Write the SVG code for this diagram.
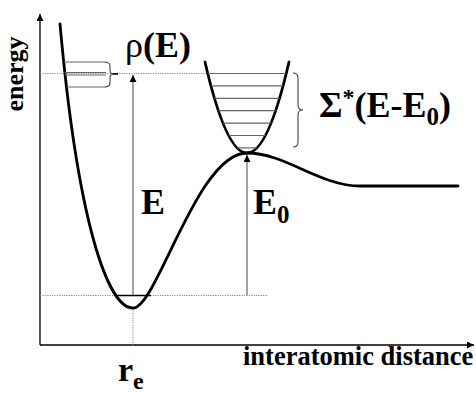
<svg xmlns="http://www.w3.org/2000/svg" width="476" height="393" viewBox="0 0 476 393">
<defs>
<style>
.curve{fill:none;stroke:#000;stroke-width:2.8;stroke-linecap:round}
.axis{fill:none;stroke:#000;stroke-width:1.3}
.thin{fill:none;stroke:#555;stroke-width:1.1}
.lvl{fill:none;stroke:#666;stroke-width:1.2}
.dot{fill:none;stroke:#888;stroke-width:1;stroke-dasharray:1.2,1.2}
.brace{fill:none;stroke:#444;stroke-width:1.1}
.lbl{font-weight:bold;fill:#000}
</style>
<marker id="ah" viewBox="0 0 10 10" refX="10" refY="5" markerWidth="8" markerHeight="7" markerUnits="userSpaceOnUse" orient="auto">
<path d="M0,0 L10,5 L0,10 z" fill="#000"/>
</marker>
</defs>
<rect width="476" height="393" fill="#fff"/>

<g id="axes">
<line class="axis" x1="40" y1="345" x2="40" y2="14" marker-end="url(#ah)"/>
<line class="axis" x1="40" y1="345" x2="474" y2="345" marker-end="url(#ah)"/>
</g>

<g id="guides">
<line class="dot" x1="40" y1="73.5" x2="208" y2="73.5"/>
<line class="dot" x1="40" y1="295.5" x2="267" y2="295.5"/>
<line class="dot" x1="133" y1="308" x2="133" y2="345"/>
</g>

<g id="potential">
<path class="curve" d="M60,24 C78,224 108,308 133,308 C157,308 197,153 247,153 C285,153 320,186 360,186 L458,186"/>
<line x1="116" y1="295.5" x2="151" y2="295.5" stroke="#000" stroke-width="1.3"/>
</g>

<g id="transition-state">
<path class="curve" d="M205,62 Q247,244 289,62"/>
<g class="lvl">
<line x1="207.7" y1="73.5" x2="286.3" y2="73.5"/>
<line x1="210.9" y1="85.9" x2="283.1" y2="85.9"/>
<line x1="214.4" y1="98.3" x2="279.6" y2="98.3"/>
<line x1="218.4" y1="110.7" x2="275.6" y2="110.7"/>
<line x1="222.9" y1="123.1" x2="271.1" y2="123.1"/>
<line x1="228.6" y1="135.5" x2="265.4" y2="135.5"/>
<line x1="237.1" y1="147.9" x2="256.9" y2="147.9"/>
</g>
<path class="brace" d="M293,73 Q298,73 298,78 L298,105 Q298,110 303,110 Q298,110 298,115 L298,142 Q298,147 293,147"/>
</g>

<g id="density">
<g class="lvl">
<line x1="64" y1="62" x2="104" y2="62"/>
<line x1="65" y1="72.5" x2="106" y2="72.5"/>
<line x1="65" y1="75" x2="106" y2="75"/>
<line x1="66.5" y1="87" x2="104" y2="87"/>
</g>
<path class="brace" d="M104,62 Q110,62 110,66 L110,70.5 Q110,74 114,74 Q110,74 110,77.5 L110,83 Q110,87 104,87"/>
<line x1="113" y1="74" x2="118" y2="74" stroke="#000" stroke-width="1.6"/>
</g>

<g id="connectors">
<line class="thin" x1="133" y1="295" x2="133" y2="75" marker-end="url(#ah)"/>
<line class="thin" x1="247" y1="295" x2="247" y2="155" marker-end="url(#ah)"/>
</g>

<g id="labels">
<text class="lbl" font-family="Liberation Serif, serif" font-size="26" text-anchor="middle" transform="translate(23,74) rotate(-90)">energy</text>
<text class="lbl" font-family="Liberation Serif, serif" font-size="36" x="125" y="57"><tspan font-weight="normal">ρ</tspan>(E)</text>
<text class="lbl" font-family="Liberation Serif, serif" font-size="36" x="141" y="214">E</text>
<text class="lbl" font-family="Liberation Serif, serif" font-size="36" x="253" y="214">E<tspan font-size="25" dy="9">0</tspan></text>
<text class="lbl" font-family="Liberation Serif, serif" font-size="36" x="319" y="117">Σ<tspan font-size="24" dy="-12">*</tspan><tspan dy="12">(E-E</tspan><tspan font-size="25" dy="8">0</tspan><tspan dy="-8">)</tspan></text>
<text class="lbl" font-family="Liberation Serif, serif" font-size="26.5" x="243" y="365">interatomic distance</text>
<text class="lbl" font-family="Liberation Serif, serif" font-size="34" x="118" y="381">r<tspan font-size="24" dy="8">e</tspan></text>
</g>
</svg>
